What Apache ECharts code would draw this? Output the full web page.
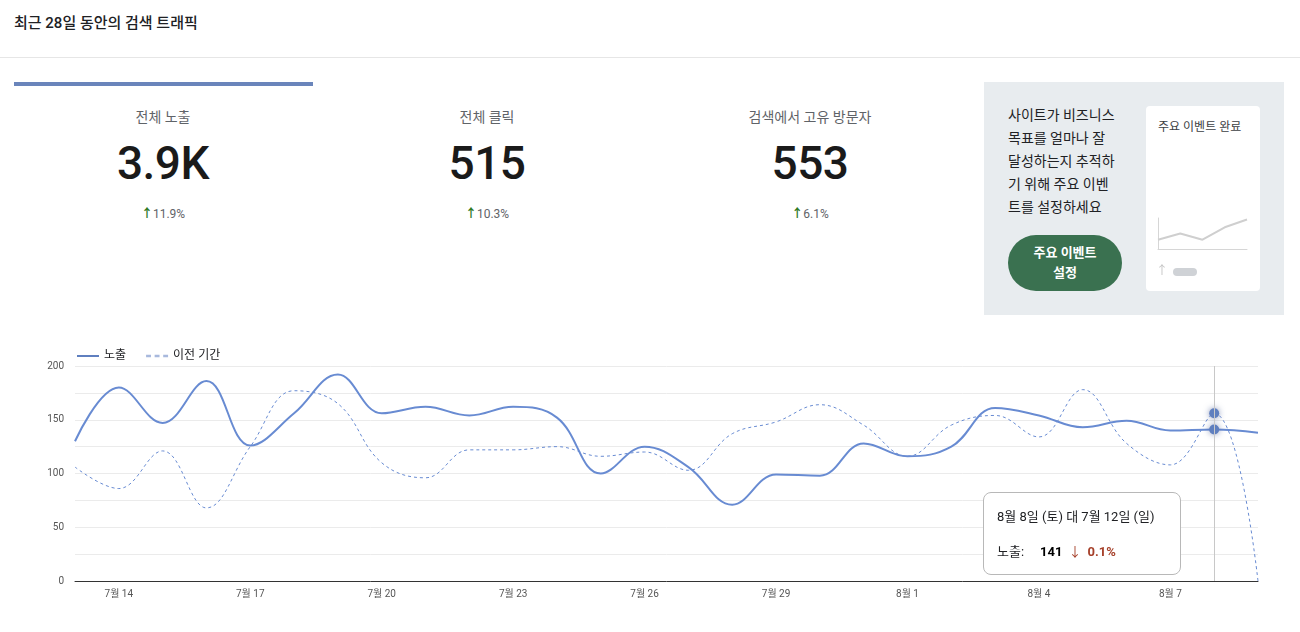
<!DOCTYPE html>
<html>
<head>
<meta charset="utf-8">
<script src="https://cdn.jsdelivr.net/npm/echarts@6/dist/echarts.min.js"></script>
<style>
  html, body { margin: 0; padding: 0; background: #fff; }
  body { width: 1300px; height: 632px; position: relative; overflow: hidden;
         font-family: Roboto, "Noto Sans CJK KR", sans-serif; color: #202124; }
  .title { position: absolute; left: 14px; top: 11px; font-size: 15px; font-weight: 500; }
  .divider { position: absolute; left: 0; top: 57px; width: 1300px; height: 1px; background: #e6e6e6; }
  .selbar { position: absolute; left: 14px; top: 82px; width: 299px; height: 4px; background: #6a85bb; }
  .kpi { position: absolute; top: 106px; width: 300px; text-align: center; }
  .kpi .lbl { font-size: 14px; color: #5f6368; height: 22px; line-height: 22px; }
  .kpi .num { font-size: 46px; line-height: 50px; margin-top: 10px; color: #1a1a1a; font-weight: 500; letter-spacing: -0.5px; }
  .kpi .chg { font-size: 12px; color: #5f6368; margin-top: 16px; }
  .kpi .chg b { color: #2f7a1f; font-weight: bold; }
  .panel { position: absolute; left: 984px; top: 82px; width: 300px; height: 233px; background: #e8ecef; }
  .panel .txt { position: absolute; left: 24px; top: 22px; width: 130px; font-size: 14px; line-height: 23px; color: #202124; white-space: nowrap; }
  .panel .btn { position: absolute; left: 24px; top: 153px; width: 114px; height: 56px; border-radius: 28px;
                background: #3a7150; color: #fff; font-weight: bold; font-size: 13px; line-height: 20px;
                text-align: center; display: flex; align-items: center; justify-content: center; }
  .card { position: absolute; left: 162px; top: 24px; width: 114px; height: 185px; background: #fff; border-radius: 4px; }
  .card .ct { position: absolute; left: 12px; top: 11px; font-size: 12px; color: #3c4043; }
  #mini { position: absolute; left: 0; top: 100px; width: 114px; height: 80px; }
  #chart { position: absolute; left: 0; top: 330px; width: 1300px; height: 302px; }
</style>
</head>
<body>
<div class="title">최근 28일 동안의 검색 트래픽</div>
<div class="divider"></div>
<div class="selbar"></div>
<div id="kpis"></div>
<div class="panel">
  <div class="txt" id="ptxt"></div>
  <div class="btn">주요 이벤트<br>설정</div>
  <div class="card">
    <div class="ct">주요 이벤트 완료</div>
    <div id="mini"></div>
  </div>
</div>
<div id="chart"></div>
<script>
// KPI 카드
var kpiLabels = ['전체 노출', '전체 클릭', '검색에서 고유 방문자'];
var kpiValues = ['3.9K', '515', '553'];
var kpiChanges = ['11.9%', '10.3%', '6.1%'];
var kpiLeft = [13, 337, 660];

// 안내 문구 (줄 단위)
var panelLines = ['사이트가 비즈니스', '목표를 얼마나 잘', '달성하는지 추적하', '기 위해 주요 이벤', '트를 설정하세요'];

// 노출 그래프 (7/13 ~ 8/9)
var dates = ['7월 13','7월 14','7월 15','7월 16','7월 17','7월 18','7월 19','7월 20','7월 21','7월 22',
             '7월 23','7월 24','7월 25','7월 26','7월 27','7월 28','7월 29','7월 30','7월 31','8월 1',
             '8월 2','8월 3','8월 4','8월 5','8월 6','8월 7','8월 8','8월 9'];
var impressions = [130,180,147,186,126,156,192,156,162,154,162,152,100,125,106,71,99,98,128,116,125,161,154,143,149,140,141,138];
var prevImpressions = [106,86,121,68,125,177,165,110,96,122,122,125,116,120,103,137,148,164,145,116,145,154,134,178,128,108,156,0];
var yTicks = [0,50,100,150,200];

// 툴팁 (8/8 기준)
var tipIndex = 26;
var tipTitle = '8월 8일 (토) 대 7월 12일 (일)';
var tipChange = '0.1%';

// 미니 차트
var miniValues = [3, 5, 3, 7, 9.5];

var kpiHtml = '';
kpiLabels.forEach(function (l, i) {
  kpiHtml += '<div class="kpi" style="left:' + kpiLeft[i] + 'px">' +
    '<div class="lbl">' + l + '</div>' +
    '<div class="num">' + kpiValues[i] + '</div>' +
    '<div class="chg"><b>&#8593;</b>' + kpiChanges[i] + '</div></div>';
});
document.getElementById('kpis').innerHTML = kpiHtml;
document.getElementById('ptxt').innerHTML = panelLines.join('<br>');

var blue = '#5f7fbf';
var font = 'Roboto, "Noto Sans CJK KR", sans-serif';

var chart = echarts.init(document.getElementById('chart'));
chart.setOption({
  animation: false,
  textStyle: { fontFamily: font },
  legend: {
    left: 72, top: 15, itemWidth: 22, itemHeight: 4, itemGap: 20,
    icon: 'path://M0,0 L22,0 L22,2 L0,2 Z',
    textStyle: { fontSize: 12, color: '#202124' },
    data: [
      { name: '노출' },
      { name: '이전 기간', icon: 'path://M0,0 L4,0 L4,2 L0,2 Z M7,0 L11,0 L11,2 L7,2 Z M14,0 L18,0 L18,2 L14,2 Z', itemStyle: { color: '#a8b9dd' } }
    ]
  },
  grid: { left: 75, right: 42, top: 36, bottom: 51 },
  tooltip: {
    trigger: 'axis',
    alwaysShowContent: true,
    position: [983, 162],
    backgroundColor: '#fff',
    borderColor: '#b8b8b8',
    borderWidth: 1,
    borderRadius: 8,
    padding: [14, 13, 12, 13],
    extraCssText: 'box-shadow:none;width:170px;',
    axisPointer: { type: 'line', lineStyle: { color: '#c8c8c8', width: 1, type: 'solid' } },
    formatter: function (params) {
      var p = params.filter(function (q) { return q.seriesName === '노출'; })[0];
      return '<div style="font-size:13px;color:#202124;line-height:20px">' + tipTitle + '</div>' +
        '<div style="font-size:13px;color:#202124;margin-top:15px;line-height:20px">노출:' +
        '<b style="margin-left:16px;color:#000">' + p.value + '</b>' +
        '<span style="color:#a6402a;margin-left:6px">&#8595;</span>' +
        '<b style="color:#a6402a;margin-left:6px">' + tipChange + '</b></div>';
    }
  },
  xAxis: {
    type: 'category',
    data: dates,
    boundaryGap: false,
    axisLine: { lineStyle: { color: '#333', width: 1 } },
    axisTick: { show: false },
    axisLabel: {
      color: '#555', fontSize: 10, margin: 8,
      interval: function (i) { return i % 3 === 1; }
    }
  },
  yAxis: {
    type: 'value', min: 0, max: 200, interval: 25,
    axisLine: { show: false },
    axisTick: { show: false },
    splitLine: { lineStyle: { color: '#ebebeb' } },
    axisLabel: {
      color: '#555', fontSize: 10, margin: 11,
      formatter: function (v) { return yTicks.indexOf(v) >= 0 ? v : ''; }
    }
  },
  series: [
    {
      name: '노출', type: 'line', data: impressions, smooth: 0.4,
      showSymbol: false, symbol: 'circle', symbolSize: 10,
      lineStyle: { color: blue, width: 2 },
      itemStyle: { color: blue, shadowBlur: 6, shadowColor: 'rgba(60,80,140,0.6)' },
      emphasis: { scale: false, lineStyle: { width: 2 } },
      z: 3
    },
    {
      name: '이전 기간', type: 'line', data: prevImpressions, smooth: 0.4,
      showSymbol: false, symbol: 'circle', symbolSize: 10,
      lineStyle: { color: blue, width: 1, type: [3, 3] },
      itemStyle: { color: blue, shadowBlur: 6, shadowColor: 'rgba(60,80,140,0.6)' },
      emphasis: { scale: false, lineStyle: { width: 1 } },
      z: 2
    }
  ]
});
chart.dispatchAction({ type: 'showTip', seriesIndex: 0, dataIndex: tipIndex });

var mini = echarts.init(document.getElementById('mini'));
mini.setOption({
  animation: false,
  grid: { left: 12, right: 13, top: 12, bottom: 37 },
  xAxis: { type: 'category', data: miniValues.map(function (v, i) { return i; }), boundaryGap: false,
           axisLine: { lineStyle: { color: '#d6d6d6' } }, axisTick: { show: false }, axisLabel: { show: false } },
  yAxis: { type: 'value', min: 0, max: 10, splitLine: { show: false },
           axisLine: { show: true, lineStyle: { color: '#d6d6d6' } }, axisTick: { show: false }, axisLabel: { show: false } },
  series: [{ type: 'line', data: miniValues, showSymbol: false, lineStyle: { color: '#cfcfcf', width: 2 } }],
  graphic: [
    { type: 'text', left: 10, top: 60, style: { text: '↑', fill: '#c4c4c4', font: '12px ' + font } },
    { type: 'rect', left: 27, top: 62, shape: { width: 24, height: 8, r: 4 }, style: { fill: '#cfd2d6' } }
  ]
});
</script>
</body>
</html>
